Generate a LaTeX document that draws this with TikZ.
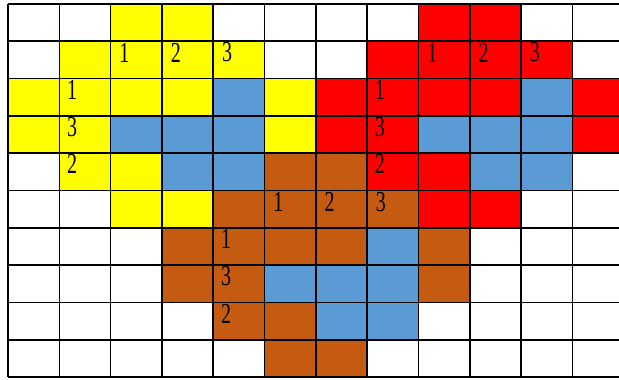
\documentclass[tikz,border=0pt]{standalone}
\usepackage{fontspec}
\setmainfont{Liberation Serif}

\definecolor{CellYellow}{RGB}{255,255,0}
\definecolor{CellRed}{RGB}{255,0,0}
\definecolor{CellBlue}{RGB}{91,155,213}
\definecolor{CellBrown}{RGB}{197,90,17}

\newcommand{\cellnum}[1]{\scalebox{1}[1.45]{#1}}

\tikzset{
  numlabel/.style={inner sep=0pt, font=\fontsize{20}{20}\selectfont, text=black},
  gridline/.style={line width=1.6pt, black}
}

\begin{document}
\begin{tikzpicture}[x=51.3pt, y=-37.3pt]
                \useasboundingbox (-0.156,-0.107) rectangle (11.91,10.08);
                \clip (-0.156,-0.107) rectangle (11.91,10.08);

                % Yellow cells
                \foreach \c/\r in {2/0,3/0,1/1,2/1,3/1,4/1,0/2,1/2,2/2,3/2,5/2,0/3,1/3,5/3,1/4,2/4,2/5,3/5}
                    \fill[CellYellow] (\c,\r) rectangle ++(1,1);

                % Red cells
                \foreach \c/\r in {8/0,9/0,7/1,8/1,9/1,10/1,6/2,7/2,8/2,9/2,11/2,6/3,7/3,11/3,7/4,8/4,8/5,9/5}
                    \fill[CellRed] (\c,\r) rectangle ++(1,1);

                % Blue cells
                \foreach \c/\r in {4/2,10/2,2/3,3/3,4/3,8/3,9/3,10/3,3/4,4/4,9/4,10/4,7/6,5/7,6/7,7/7,6/8,7/8}
                    \fill[CellBlue] (\c,\r) rectangle ++(1,1);

                % Brown cells
                \foreach \c/\r in {5/4,6/4,4/5,5/5,6/5,7/5,3/6,4/6,5/6,6/6,8/6,3/7,4/7,8/7,4/8,5/8,5/9,6/9}
                    \fill[CellBrown] (\c,\r) rectangle ++(1,1);

                % Grid
                \foreach \r in {0,...,10}
                    \draw[gridline] (0,\r) -- (12,\r);
                \foreach \c in {0,...,12}
                    \draw[gridline] (\c,0) -- (\c,10);

                % Yellow numbers
                \node[numlabel] (yt1) at (2.27,1.3) {\cellnum{1}};
                \node[numlabel] (yt2) at (3.27,1.3) {\cellnum{2}};
                \node[numlabel] (yt3) at (4.27,1.3) {\cellnum{3}};
                \node[numlabel] (yl1) at (1.25,2.3) {\cellnum{1}};
                \node[numlabel] (yl3) at (1.25,3.3) {\cellnum{3}};
                \node[numlabel] (yl2) at (1.25,4.3) {\cellnum{2}};

                % Red numbers
                \node[numlabel] (rt1) at (8.27,1.3) {\cellnum{1}};
                \node[numlabel] (rt2) at (9.27,1.3) {\cellnum{2}};
                \node[numlabel] (rt3) at (10.27,1.3) {\cellnum{3}};
                \node[numlabel] (rl1) at (7.25,2.3) {\cellnum{1}};
                \node[numlabel] (rl3) at (7.25,3.3) {\cellnum{3}};
                \node[numlabel] (rl2) at (7.25,4.3) {\cellnum{2}};

                % Brown numbers
                \node[numlabel] (bt1) at (5.27,5.3) {\cellnum{1}};
                \node[numlabel] (bt2) at (6.27,5.3) {\cellnum{2}};
                \node[numlabel] (bt3) at (7.27,5.3) {\cellnum{3}};
                \node[numlabel] (bl1) at (4.25,6.3) {\cellnum{1}};
                \node[numlabel] (bl3) at (4.25,7.3) {\cellnum{3}};
                \node[numlabel] (bl2) at (4.25,8.3) {\cellnum{2}};
            \end{tikzpicture}
\end{document}
